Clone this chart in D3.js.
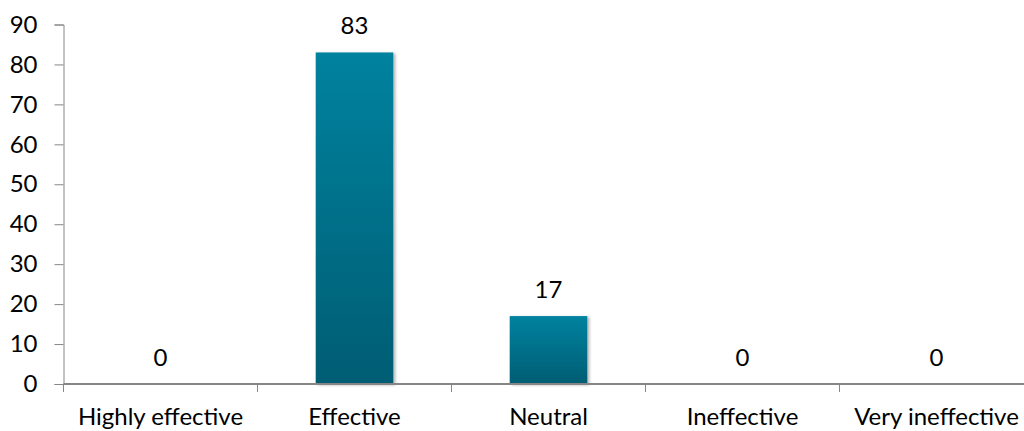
<!DOCTYPE html>
<html>
<head>
<meta charset="utf-8">
<script src="https://cdn.jsdelivr.net/npm/d3@7"></script>
<style>
  html, body { margin: 0; padding: 0; background: #fff; overflow: hidden; }
  svg { display: block; }
  text { font-family: Lato, "Open Sans", sans-serif; fill: #000; }
</style>
</head>
<body>
<svg id="chart" width="1024" height="431"></svg>
<script>
// Ratings and their shares (percent)
const categories = ["Highly effective", "Effective", "Neutral", "Ineffective", "Very ineffective"];
const values = [0, 83, 17, 0, 0];
const yTicks = [0, 10, 20, 30, 40, 50, 60, 70, 80, 90];

const svg = d3.select("#chart");
const plotLeft = 63.5, plotRight = 1033.5, plotTop = 24.5, plotBottom = 384;
const fontSize = 24;

const x = d3.scaleBand().domain(categories).range([plotLeft, plotRight]).paddingInner(0).paddingOuter(0);
const y = d3.scaleLinear().domain([0, 90]).range([plotBottom, plotTop]);

const defs = svg.append("defs");
const grad = defs.append("linearGradient")
  .attr("id", "barFill").attr("x1", 0).attr("y1", 0).attr("x2", 0).attr("y2", 1);
grad.append("stop").attr("offset", "0%").attr("stop-color", "#00829F");
grad.append("stop").attr("offset", "100%").attr("stop-color", "#005D73");

const shadow = defs.append("filter").attr("id", "shadow")
  .attr("x", "-20%").attr("y", "-5%").attr("width", "140%").attr("height", "110%");
shadow.append("feDropShadow").attr("dx", 2).attr("dy", 1).attr("stdDeviation", 1.8)
  .attr("flood-color", "#000").attr("flood-opacity", 0.3);

const barW = x.bandwidth() * 0.4;

// Bars
svg.append("g").selectAll("rect")
  .data(categories.map((c, i) => ({ c, v: values[i] })).filter(d => d.v > 0))
  .join("rect")
  .attr("x", d => x(d.c) + (x.bandwidth() - barW) / 2)
  .attr("y", d => y(d.v))
  .attr("width", barW)
  .attr("height", d => y(0) - y(d.v))
  .attr("fill", "url(#barFill)")
  .attr("filter", "url(#shadow)");

// Y axis
const yAxis = d3.axisLeft(y).tickValues(yTicks).tickSize(9).tickPadding(17);
const gy = svg.append("g").attr("transform", `translate(${plotLeft},0)`).call(yAxis);
gy.select(".domain").attr("stroke", "#868686").attr("stroke-width", 1);
gy.selectAll(".tick line").attr("stroke", "#868686");
gy.selectAll(".tick text").attr("font-size", fontSize).attr("font-family", "Lato, 'Open Sans', sans-serif").attr("fill", "#000");

// X axis: ticks on band boundaries
const xAxisG = svg.append("g").attr("transform", `translate(0,${plotBottom})`);
xAxisG.append("line").attr("x1", plotLeft).attr("x2", plotRight).attr("y1", 0).attr("y2", 0)
  .attr("stroke", "#868686").attr("stroke-width", 2);
xAxisG.selectAll("line.tk")
  .data(categories)
  .join("line").attr("class", "tk")
  .attr("x1", d => x(d)).attr("x2", d => x(d))
  .attr("y1", 0).attr("y2", 8)
  .attr("stroke", "#868686");
xAxisG.selectAll("text")
  .data(categories)
  .join("text")
  .attr("x", d => x(d) + x.bandwidth() / 2)
  .attr("y", 41)
  .attr("text-anchor", "middle")
  .attr("font-size", fontSize)
  .text(d => d);

// Value labels
svg.append("g").selectAll("text")
  .data(categories.map((c, i) => ({ c, v: values[i] })))
  .join("text")
  .attr("x", d => x(d.c) + x.bandwidth() / 2)
  .attr("y", d => y(d.v) - 18)
  .attr("text-anchor", "middle")
  .attr("font-size", fontSize)
  .text(d => d3.format(".0f")(d.v));
</script>
</body>
</html>
